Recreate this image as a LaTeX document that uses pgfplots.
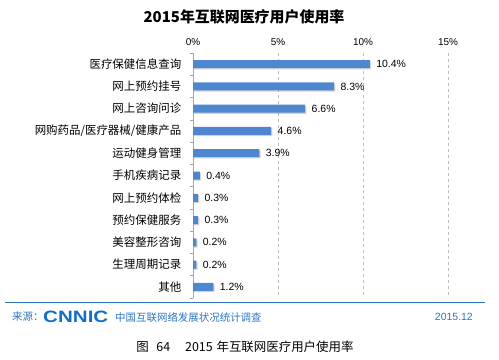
\documentclass[border=0pt]{standalone}
\usepackage{pgfplots}
\pgfplotsset{compat=1.18}
\usepackage{fontspec}
\usetikzlibrary{shadows}
\setmainfont{Liberation Sans}
\newfontfamily\cjk{Noto Sans CJK SC}
\definecolor{barblue}{RGB}{79,134,208}
\definecolor{srcblue}{RGB}{46,117,190}
\definecolor{logoblue}{RGB}{20,110,200}
\definecolor{gridgray}{RGB}{190,190,190}
\pgfplotstableread{
y val
1 10.4
2 8.3
3 6.6
4 4.6
5 3.9
6 0.4
7 0.3
8 0.3
9 0.2
10 0.2
11 1.2
}\usagedata
\begin{document}
\begin{tikzpicture}[x=1bp,y=1bp]
\path[use as bounding box] (0,0) rectangle (499,359);
\begin{axis}[
  at={(193bp,61bp)}, anchor=south west, scale only axis,
  width=255bp, height=245bp,
  xmin=0, xmax=15, ymin=0.5, ymax=11.5, y dir=reverse,
  axis x line*=top, axis y line*=left,
  x axis line style={draw=none},
  y axis line style={draw=gray!70, line width=0.6pt},
  xtick={0,5,10,15}, xticklabel pos=top,
  xticklabel={\pgfmathprintnumber{\tick}\%},
  xtick style={draw=none},
  xmajorgrids, major x grid style={dashed, draw=gridgray, line width=0.5pt},
  ytick={1,...,11},
  yticklabels={医疗保健信息查询,网上预约挂号,网上咨询问诊,网购药品/医疗器械/健康产品,运动健身管理,手机疾病记录,网上预约体检,预约保健服务,美容整形咨询,生理周期记录,其他},
  yticklabel style={font=\cjk\fontsize{11.5}{12}\selectfont, xshift=-4bp},
  ytick style={draw=none},
  minor ytick={0.5,1.5,...,11.5},
  minor tick length=3bp, tick align=outside,
  minor y tick style={draw=gray!70, line width=0.5pt},
  ticklabel style={font=\fontsize{10}{10}\selectfont},
  /pgf/number format/assume math mode=true,
  xbar, bar width=8bp,
  nodes near coords={\pgfmathprintnumber[fixed,precision=1,fixed zerofill]{\pgfplotspointmeta}\%},
  nodes near coords style={font=\fontsize{10.5}{11}\selectfont, text=black, anchor=west, xshift=3bp},
  point meta=x,
  clip=false,
]
\addplot[fill=barblue, draw=none, drop shadow={shadow xshift=1.2bp, shadow yshift=-1.2bp, opacity=0.35}] table[x=val, y=y] {\usagedata};
\end{axis}
% title
\node[font=\cjk\fontsize{15}{16}\selectfont\bfseries] at (244,342) {2015年互联网医疗用户使用率};
% footer
\draw[srcblue, line width=0.9pt] (5,57) -- (485,57);
\node[anchor=west, text=srcblue, font=\cjk\fontsize{10.5}{11}\selectfont, inner sep=0] at (12,42) {来源：};
\node[anchor=west, text=logoblue, font=\fontsize{16.5}{17}\selectfont\bfseries, inner sep=0, xscale=1.25] at (43,42) {CNNIC};
\node[anchor=west, text=srcblue, font=\cjk\fontsize{10.5}{11}\selectfont, inner sep=0] at (115,42) {中国互联网络发展状况统计调查};
\node[anchor=east, text=srcblue, font=\fontsize{10.5}{11}\selectfont, inner sep=0] at (473,42) {2015.12};
\node[font=\cjk\fontsize{12.5}{13}\selectfont, inner sep=0] at (245,12) {图\hspace{0.6em}64\hspace{1.2em}2015\hspace{0.3em}年互联网医疗用户使用率};
\end{tikzpicture}
\end{document}
